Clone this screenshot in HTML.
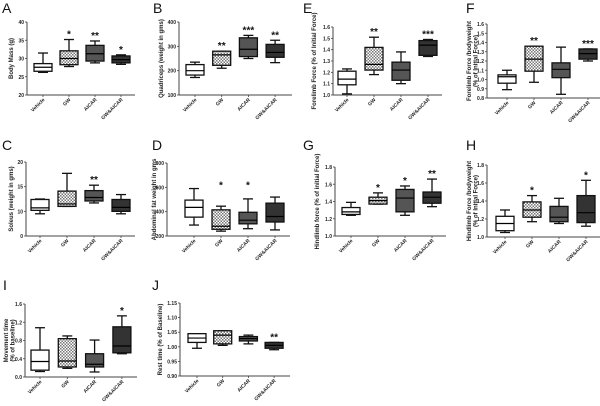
<!DOCTYPE html>
<html><head><meta charset="utf-8">
<style>
html,body{margin:0;padding:0;background:#fff;}
svg{display:block;font-family:"Liberation Sans",sans-serif;}
.t{font-size:5px;font-weight:bold;fill:#222;}
.yl{font-size:6px;font-weight:bold;fill:#222;}
.pl{font-size:14px;fill:#111;}
.st{font-size:10px;font-weight:bold;fill:#111;}
</style></head>
<body>
<svg id="fig" width="600" height="406" viewBox="0 0 600 406" xmlns="http://www.w3.org/2000/svg">
<defs>
<pattern id="chk" width="3" height="3" patternUnits="userSpaceOnUse">
<rect width="3" height="3" fill="#fff"/>
<rect width="1.5" height="1.5" fill="#777"/>
<rect x="1.5" y="1.5" width="1.5" height="1.5" fill="#777"/>
</pattern>
</defs>
</svg>
<script>
const categories = ["Vehicle","GW","AICAR","GW&AICAR"];
const aLo=[26.2,27.8,28.8,28.4], aQ1=[26.5,28.3,29.3,28.8], aMed=[27.6,30.0,31.3,29.7], aQ3=[28.6,32.1,33.6,30.7], aHi=[31.5,35.2,34.8,31.0], aStars=["","*","**","*"];
const bLo=[172,210,250,233], bQ1=[182,222,258,255], bMed=[200,265,288,275], bQ3=[225,280,335,308], bHi=[235,280,345,325], bStars=["","**","***","**"];
const eLo=[1.01,1.18,1.10,1.34], eQ1=[1.09,1.22,1.13,1.35], eMed=[1.14,1.27,1.22,1.44], eQ3=[1.21,1.42,1.29,1.48], eHi=[1.23,1.51,1.38,1.49], eStars=["","**","","***"];
const fLo=[0.89,0.97,0.84,1.20], fQ1=[0.96,1.09,1.02,1.22], fMed=[1.03,1.22,1.11,1.28], fQ3=[1.05,1.36,1.18,1.33], fHi=[1.10,1.36,1.35,1.33], fStars=["","**","","***"];
const cLo=[9.5,11.0,11.7,9.5], cQ1=[10.2,11.0,12.1,10.0], cMed=[10.7,11.5,12.8,10.8], cQ3=[12.4,14.1,14.2,12.4], cHi=[12.5,17.7,15.3,13.4], cStars=["","","**",""];
const dLo=[290,240,260,250], dQ1=[355,255,300,315], dMed=[435,280,330,360], dQ3=[495,415,395,470], dHi=[590,445,505,520], dStars=["","*","*",""];
const gLo=[1.24,1.37,1.24,1.34], gQ1=[1.25,1.37,1.28,1.38], gMed=[1.28,1.41,1.44,1.45], gQ3=[1.33,1.45,1.54,1.51], gHi=[1.39,1.50,1.58,1.66], gStars=["","*","*","**"];
const hLo=[1.05,1.17,1.15,1.12], hQ1=[1.07,1.22,1.17,1.16], hMed=[1.15,1.30,1.22,1.27], hQ3=[1.23,1.39,1.34,1.46], hHi=[1.30,1.46,1.43,1.63], hStars=["","*","","*"];
const iLo=[0.12,0.19,0.11,0.51], iQ1=[0.15,0.22,0.22,0.53], iMed=[0.34,0.35,0.28,0.68], iQ3=[0.59,0.84,0.51,1.10], iHi=[1.08,0.90,0.81,1.34], iStars=["","","","*"];
const jLo=[0.995,1.005,1.01,0.99], jQ1=[1.015,1.01,1.02,0.995], jMed=[1.03,1.04,1.028,1.005], jQ3=[1.045,1.055,1.035,1.015], jHi=[1.045,1.055,1.04,1.015], jStars=["","","","**"];
const aTicks=[20,25,30,35,40], bTicks=[100,200,300,400], eTicks=[1.0,1.1,1.2,1.3,1.4,1.5,1.6], fTicks=[0.8,0.9,1.0,1.1,1.2,1.3,1.4,1.5,1.6];
const cTicks=[5,10,15,20], cTickLabels=["0","10","15","20"], dTicks=[200,400,600,800], gTicks=[1.0,1.2,1.4,1.6,1.8], hTicks=[1.0,1.2,1.4,1.6,1.8];
const iTicks=[0.0,0.4,0.8,1.2,1.6], jTicks=[0.90,0.95,1.00,1.05,1.10,1.15];

const fills=["#fff","url(#chk)","#555","#333"];
const panels=[
 {id:"a",L:"A",lx:2,ly:13,ax:27,y0:95,y1:22,dom:[20,40],c0:43,dc:26,x2:135,ticks:aTicks,fmt:v=>v,title:["Body Mass (g)"],tx:13,lo:aLo,q1:aQ1,med:aMed,q3:aQ3,hi:aHi,stars:aStars},
 {id:"b",L:"B",lx:153,ly:13,ax:179,y0:95,y1:22,dom:[100,400],c0:195,dc:26.7,x2:292,ticks:bTicks,fmt:v=>v,title:["Quadriceps (weight in gms)"],tx:163,lo:bLo,q1:bQ1,med:bMed,q3:bQ3,hi:bHi,stars:bStars},
 {id:"e",L:"E",lx:303,ly:13,ax:333,y0:95,y1:27,dom:[1.0,1.6],c0:347,dc:27,x2:442,ticks:eTicks,fmt:v=>v.toFixed(1),title:["Forelimb Force (% of Initial Force)"],tx:316,lo:eLo,q1:eQ1,med:eMed,q3:eQ3,hi:eHi,stars:eStars},
 {id:"f",L:"F",lx:466,ly:13,ax:487,y0:98,y1:24,dom:[0.8,1.6],c0:507,dc:27,x2:600,ticks:fTicks,fmt:v=>v.toFixed(1),title:["Forelimb Force /bodyweight","(% of Initial Force)"],tx:471,lo:fLo,q1:fQ1,med:fMed,q3:fQ3,hi:fHi,stars:fStars},
 {id:"c",L:"C",lx:2,ly:150,ax:26,y0:236,y1:162,dom:[5,20],c0:40,dc:27,x2:135,ticks:cTicks,labels:cTickLabels,fmt:v=>v,title:["Soleus (weight in gms)"],tx:13,lo:cLo,q1:cQ1,med:cMed,q3:cQ3,hi:cHi,stars:cStars},
 {id:"d",L:"D",lx:152,ly:150,ax:167,y0:236,y1:163,dom:[200,800],c0:194,dc:27,x2:290,ticks:dTicks,fmt:v=>v,title:["Abdominal fat weight in gms"],tx:156,lo:dLo,q1:dQ1,med:dMed,q3:dQ3,hi:dHi,stars:dStars,starAt:630},
 {id:"g",L:"G",lx:303,ly:150,ax:335,y0:236,y1:167,dom:[1.0,1.8],c0:351,dc:27,x2:446,ticks:gTicks,fmt:v=>v.toFixed(1),title:["Hindlimb force (% of initial Force)"],tx:319,lo:gLo,q1:gQ1,med:gMed,q3:gQ3,hi:gHi,stars:gStars},
 {id:"h",L:"H",lx:466,ly:150,ax:487,y0:237,y1:165,dom:[1.0,1.8],c0:505,dc:27,x2:600,ticks:hTicks,fmt:v=>v.toFixed(1),title:["Hindlimb Force /bodyweight","(% of Initial Force)"],tx:471,lo:hLo,q1:hQ1,med:hMed,q3:hQ3,hi:hHi,stars:hStars},
 {id:"i",L:"I",lx:3,ly:290,ax:25,y0:377,y1:304,dom:[0,1.6],c0:40,dc:27.3,x2:137,ticks:iTicks,fmt:v=>v.toFixed(1),title:["Movement time","(% of baseline)"],tx:8,lo:iLo,q1:iQ1,med:iMed,q3:iQ3,hi:iHi,stars:iStars},
 {id:"j",L:"J",lx:152,ly:290,ax:180,y0:376,y1:303,dom:[0.90,1.15],c0:197,dc:25.7,x2:290,ticks:jTicks,fmt:v=>v.toFixed(2),title:["Rest time (% of Baseline)"],tx:162,lo:jLo,q1:jQ1,med:jMed,q3:jQ3,hi:jHi,stars:jStars}
];
const NS="http://www.w3.org/2000/svg";
const svg=document.getElementById("fig");
function mk(tag,attrs,parent,txt){const e=document.createElementNS(NS,tag);for(const k in attrs)e.setAttribute(k,attrs[k]);if(txt!==undefined)e.textContent=txt;parent.appendChild(e);return e;}
panels.forEach(p=>{
 const g=mk("g",{},svg);
 
 
 const ys=v=>p.y0+(v-p.dom[0])/(p.dom[1]-p.dom[0])*(p.y1-p.y0);
 const xs=i=>p.c0+i*p.dc;
 const lab=mk("text",{x:p.lx,y:p.ly,class:"pl"},g,p.L);
 
 
 const ya=mk("line",{x1:p.ax,y1:p.y1,x2:p.ax,y2:p.y0,stroke:"#444","stroke-width":1},g);
 
 
 const xa=mk("line",{x1:p.ax,y1:p.y0,x2:p.x2,y2:p.y0,stroke:"#444","stroke-width":1},g);
 
 
 p.ticks.forEach((t,k)=>{
  const y=ys(t);
  mk("line",{x1:p.ax-2,y1:y,x2:p.ax,y2:y,stroke:"#444","stroke-width":0.8},g);
  const tl=mk("text",{x:p.ax-3,y:y+2,class:"t","text-anchor":"end"},g,p.labels?p.labels[k]:p.fmt(t));
  
  
 });
 const ty=(p.y0+p.y1)/2;
 p.title.forEach((s,k)=>{
  const tt=mk("text",{x:p.tx+k*6.5,y:ty,class:"yl","text-anchor":"middle",transform:`rotate(-90 ${p.tx+k*6.5} ${ty})`},g,s);
  
  
 });
 categories.forEach((c,i)=>{
  const x=xs(i), w=18;
  mk("line",{x1:x,y1:p.y0,x2:x,y2:p.y0+2,stroke:"#444","stroke-width":0.8},g);
  const cl=mk("text",{x:x+2,y:p.y0+5,class:"t","text-anchor":"end",transform:`rotate(-45 ${x+2} ${p.y0+5})`},g,c);
  
  
  const bg=mk("g",{},g);
  
  
  mk("line",{x1:x,y1:ys(p.lo[i]),x2:x,y2:ys(p.hi[i]),stroke:"#111","stroke-width":1.3},bg);
  mk("line",{x1:x-5,y1:ys(p.lo[i]),x2:x+5,y2:ys(p.lo[i]),stroke:"#111","stroke-width":1.3},bg);
  mk("line",{x1:x-5,y1:ys(p.hi[i]),x2:x+5,y2:ys(p.hi[i]),stroke:"#111","stroke-width":1.3},bg);
  mk("rect",{x:x-w/2,y:ys(p.q3[i]),width:w,height:Math.max(0.5,ys(p.q1[i])-ys(p.q3[i])),fill:fills[i],stroke:"#111","stroke-width":1.3},bg);
  mk("line",{x1:x-w/2,y1:ys(p.med[i]),x2:x+w/2,y2:ys(p.med[i]),stroke:"#000","stroke-width":1.2},bg);
  if(p.stars[i]){
   const sy=p.starAt!==undefined?ys(p.starAt)+5:ys(p.hi[i])-2;
   const st=mk("text",{x:x,y:sy,class:"st","text-anchor":"middle"},g,p.stars[i]);
   
   
  }
 });
});
</script>
</body></html>
